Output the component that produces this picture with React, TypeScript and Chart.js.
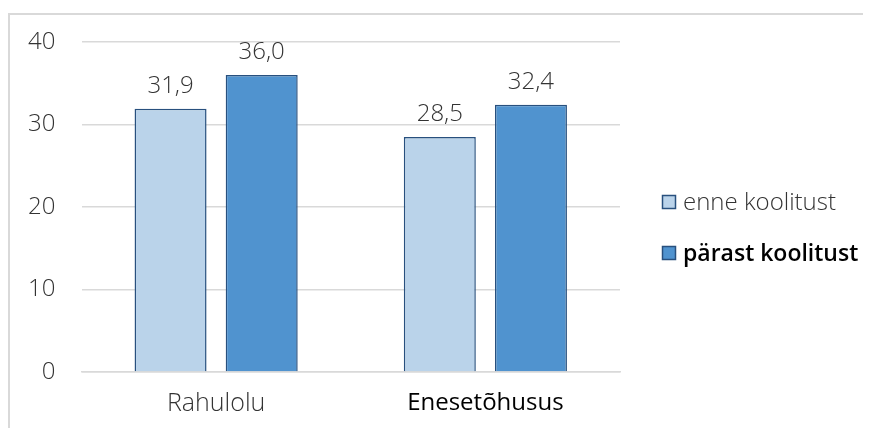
import React, { useEffect, useRef } from "react";
import { Chart, registerables } from "chart.js";

Chart.register(...registerables);

const categories = ["Rahulolu", "Enesetõhusus"];
const seriesNames = ["enne koolitust", "pärast koolitust"];
const enneValues = [31.9, 28.5];
const parastValues = [36.0, 32.4];
const yTicks = [0, 10, 20, 30, 40];

const FONT = "'Open Sans', sans-serif";
const TEXT = "#333333";
const LIGHT = "#BAD3EA";
const DARK = "#5093CF";
const EDGE = "#28507E";

const fmt = (v: number) => v.toFixed(1).replace(".", ",");

const valueLabels = {
  id: "valueLabels",
  afterDatasetsDraw(chart: any) {
    const ctx = chart.ctx;
    ctx.save();
    ctx.font = `300 24px ${FONT}`;
    ctx.fillStyle = TEXT;
    ctx.textAlign = "center";
    ctx.textBaseline = "alphabetic";
    chart.data.datasets.forEach((ds: any, i: number) => {
      const meta = chart.getDatasetMeta(i);
      meta.data.forEach((bar: any, j: number) => {
        ctx.fillText(fmt(ds.data[j]), bar.x, bar.y - 16);
      });
    });
    ctx.restore();
  },
};

const sideLegend = {
  id: "sideLegend",
  afterDraw(chart: any) {
    const ctx = chart.ctx;
    ctx.save();
    const x = 654;
    const ys = [194, 245];
    chart.data.datasets.forEach((ds: any, i: number) => {
      ctx.fillStyle = ds.backgroundColor;
      ctx.fillRect(x, ys[i] - 7, 14, 14);
      ctx.strokeStyle = EDGE;
      ctx.lineWidth = 1.5;
      ctx.strokeRect(x + 0.5, ys[i] - 6.5, 13, 13);
      ctx.fillStyle = i === 1 ? "#000000" : TEXT;
      ctx.font = `${i === 1 ? "600" : "300"} ${i === 1 ? 23 : 24}px ${FONT}`;
      ctx.textAlign = "left";
      ctx.textBaseline = "middle";
      ctx.fillText(ds.label, x + 21, ys[i] + 1);
    });
    ctx.restore();
  },
};

export default function App() {
  const ref = useRef<HTMLCanvasElement>(null);
  useEffect(() => {
    if (!ref.current) return;
    const chart = new Chart(ref.current, {
      type: "bar",
      data: {
        labels: categories,
        datasets: [
          {
            label: seriesNames[0],
            data: enneValues,
            backgroundColor: LIGHT,
            borderColor: EDGE,
            borderWidth: 1.5,
            barPercentage: 0.79,
            categoryPercentage: 0.677,
          },
          {
            label: seriesNames[1],
            data: parastValues,
            backgroundColor: DARK,
            borderColor: EDGE,
            borderWidth: 1.5,
            barPercentage: 0.79,
            categoryPercentage: 0.677,
          },
        ],
      },
      options: {
        animation: false,
        responsive: false,
        devicePixelRatio: 1,
        layout: { padding: { left: 0, top: 34, right: 251, bottom: 0 } },
        plugins: { legend: { display: false }, tooltip: { enabled: false } },
        scales: {
          x: {
            grid: { display: false, drawTicks: false },
            border: { display: true, color: "#D9D9D9", width: 1.5 },
            ticks: {
              color: (c: any) => (c.index === 1 ? "#000000" : TEXT),
              font: (c: any) => ({
                family: FONT,
                size: c.index === 1 ? 24 : 25,
                weight: c.index === 1 ? "500" : "300",
              }),
              padding: 17,
            },
            afterFit: (s: any) => {
              s.height = 56;
              s.paddingLeft = 0;
              s.paddingRight = 0;
            },
          },
          y: {
            min: 0,
            max: 40,
            afterBuildTicks: (s: any) => {
              s.ticks = yTicks.map((v) => ({ value: v }));
            },
            grid: { color: "#D9D9D9", lineWidth: 1.5, drawTicks: false },
            border: { display: false },
            ticks: {
              color: TEXT,
              font: { family: FONT, size: 24, weight: "300" },
              padding: 26,
            },
            afterFit: (s: any) => {
              s.width = 73.5;
              s.paddingTop = 0;
              s.paddingBottom = 0;
            },
          },
        },
      },
      plugins: [valueLabels, sideLegend],
    });
    return () => chart.destroy();
  }, []);

  return (
    <div style={{ position: "relative", width: 863, height: 420, overflow: "hidden" }}>
      <div
        style={{
          position: "absolute",
          left: 0,
          top: 5,
          width: 900,
          height: 500,
          borderTop: "2px solid #D9D9D9",
          borderLeft: "2px solid #D9D9D9",
        }}
      />
      <canvas
        ref={ref}
        width={863}
        height={420}
        style={{ position: "absolute", left: 0, top: 0, width: 863, height: 420 }}
      />
    </div>
  );
}
